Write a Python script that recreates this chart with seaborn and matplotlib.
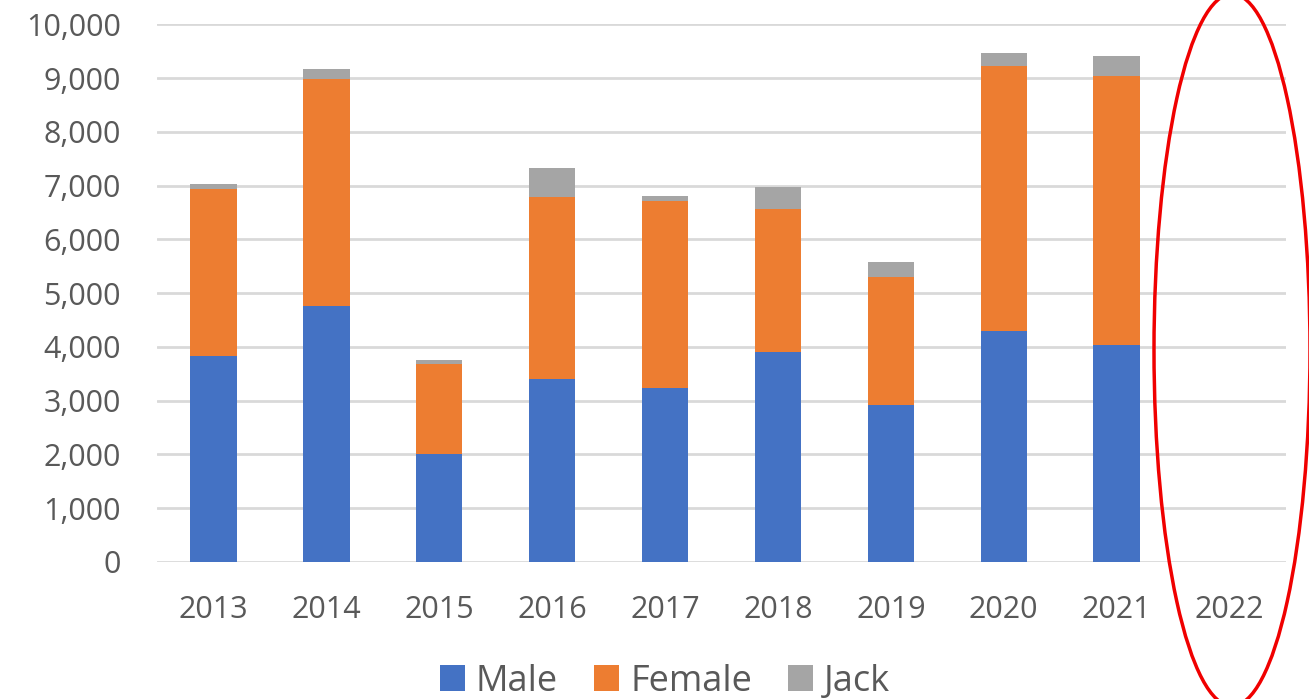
import numpy as np
import pandas as pd
import matplotlib
matplotlib.use("Agg")
import matplotlib.pyplot as plt
from matplotlib.patches import Ellipse, Patch
from matplotlib.ticker import FuncFormatter
import seaborn as sns

# Returns by year and sex (2022 not yet available)
years = ["2013", "2014", "2015", "2016", "2017", "2018", "2019", "2020", "2021", "2022"]
male = [3835, 4765, 2000, 3405, 3235, 3910, 2925, 4300, 4040, np.nan]
female = [3105, 4215, 1690, 3380, 3490, 2650, 2375, 4920, 4995, np.nan]
jack = [90, 190, 60, 545, 75, 415, 275, 255, 370, np.nan]

series = ["Male", "Female", "Jack"]
colors = {"Male": "#4472C4", "Female": "#ED7D31", "Jack": "#A5A5A5"}
text_color = "#595959"

df = pd.DataFrame({"year": years, "Male": male, "Female": female, "Jack": jack})
df["Female_top"] = df["Male"] + df["Female"]
df["Jack_top"] = df["Female_top"] + df["Jack"]

sns.set_theme(style="white")
plt.rcParams["font.family"] = ["Open Sans", "DejaVu Sans"]

fig = plt.figure(figsize=(13.09, 6.99), dpi=100)
ax = fig.add_axes([0.12, 0.196, 0.8624, 0.769])

# Stacked bars: draw cumulative tops from the tallest layer down
for col, name in [("Jack_top", "Jack"), ("Female_top", "Female"), ("Male", "Male")]:
    sns.barplot(data=df, x="year", y=col, order=years, color=colors[name],
                width=0.41, saturation=1, ax=ax, zorder=3,
                linewidth=0, edgecolor="none")

ax.set_ylim(0, 10000)
ax.set_xlim(-0.5, len(years) - 0.5)
ax.set_yticks(range(0, 10001, 1000))
ax.yaxis.set_major_formatter(FuncFormatter(lambda v, p: f"{int(v):,}"))
ax.grid(axis="y", color="#D9D9D9", linewidth=2, zorder=0)
ax.grid(axis="x", visible=False)
for s in ax.spines.values():
    s.set_visible(False)
ax.set_xlabel("")
ax.set_ylabel("")
ax.tick_params(axis="y", length=0, pad=26, labelsize=22, labelcolor=text_color)
ax.tick_params(axis="x", length=0, pad=24, labelsize=22, labelcolor=text_color)

handles = [Patch(facecolor=colors[s], edgecolor="none") for s in series]
fig.legend(handles, series, loc="center", bbox_to_anchor=(0.508, 0.025),
           ncol=3, frameon=False, fontsize=26, labelcolor=text_color,
           handlelength=0.7, handleheight=0.7, handletextpad=0.3,
           columnspacing=1.0)

# Highlight the missing year
ell = Ellipse((1232 / 1309, 1 - 350 / 699), 156 / 1309, 712 / 699,
              transform=fig.transFigure, fill=False, edgecolor="#F00000",
              linewidth=2.5, zorder=10)
fig.add_artist(ell)

fig.savefig("out.png", dpi=100, facecolor="white")
